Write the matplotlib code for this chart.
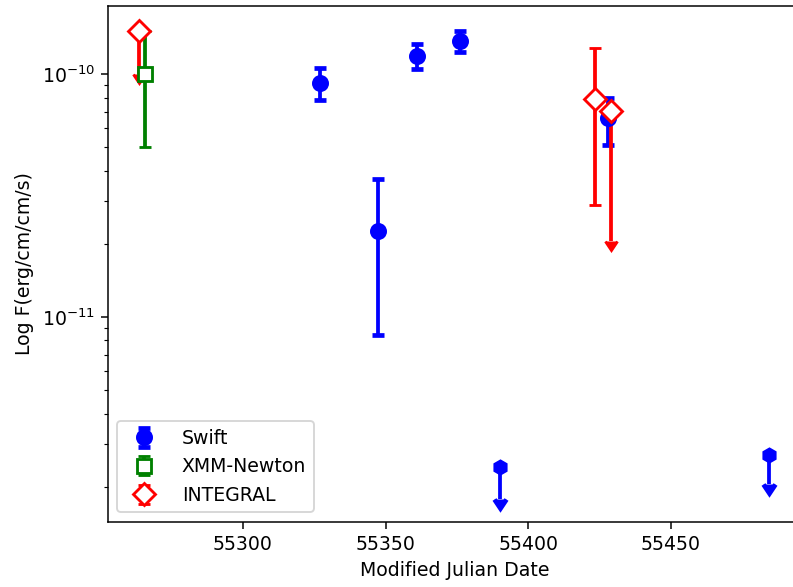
import numpy as np
import matplotlib
matplotlib.use("Agg")
import matplotlib.pyplot as plt

# Swift detections
swift_mjd = [55327.1, 55347.2, 55361.1, 55376.1, 55428.0]
swift_flux = [9.2e-11, 2.26e-11, 1.19e-10, 1.37e-10, 6.6e-11]
swift_err_lo = [1.4e-11, 1.42e-11, 1.4e-11, 1.4e-11, 1.5e-11]
swift_err_hi = [1.4e-11, 1.44e-11, 1.4e-11, 1.3e-11, 1.4e-11]

# Swift upper limits
swift_ul_mjd = [55390.3, 55484.5]
swift_ul_flux = [2.40e-12, 2.71e-12]
swift_ul_err = [0.62e-12, 0.66e-12]

# XMM-Newton
xmm_mjd = [55265.8]
xmm_flux = [1.0e-10]
xmm_err_lo = [0.5e-10]
xmm_err_hi = [0.5e-10]

# INTEGRAL
integral_mjd = [55263.7, 55423.4, 55429.0]
integral_flux = [1.5e-10, 7.9e-11, 7.05e-11]
integral_err_lo = [0.5e-10, 5.0e-11, 5.0e-11]
integral_err_hi = [0.0, 4.9e-11, 0.0]
integral_ul = [True, False, True]

dpi = 136
fig = plt.figure(figsize=(793 / dpi, 587 / dpi), dpi=dpi)
ax = fig.add_axes([108 / 793, 65.3 / 587, 692.5 / 793, 515.7 / 587])

ax.errorbar(swift_mjd, swift_flux, yerr=[swift_err_lo, swift_err_hi],
            fmt="o", color="blue", ms=8, capsize=3, capthick=2.5, elinewidth=2,
            label="Swift")
ax.errorbar(swift_ul_mjd, swift_ul_flux, yerr=swift_ul_err, uplims=True,
            fmt="h", color="blue", ms=7.5, capsize=3, capthick=2.5, elinewidth=2)
ax.errorbar(xmm_mjd, xmm_flux, yerr=[xmm_err_lo, xmm_err_hi],
            fmt="s", color="green", mfc="white", mec="green", mew=1.5, ms=7.5,
            capsize=3, capthick=2.5, elinewidth=2, label="XMM-Newton")
ax.errorbar(integral_mjd, integral_flux, yerr=[integral_err_lo, integral_err_hi],
            uplims=integral_ul, fmt="D", color="red", mfc="white", mec="red",
            mew=1.5, ms=8, capsize=3, capthick=2.5, elinewidth=2,
            label="INTEGRAL")

ax.set_yscale("log")
ax.set_xlim(55252.7, 55495.5)
ax.set_ylim(10 ** -11.843, 10 ** -9.72)
ax.set_xticks([55300, 55350, 55400, 55450])
ax.set_xlabel("Modified Julian Date")
ax.set_ylabel("Log F(erg/cm/cm/s)")
ax.legend(loc="lower left", handletextpad=1.0)

fig.savefig("out.png", dpi=dpi)
